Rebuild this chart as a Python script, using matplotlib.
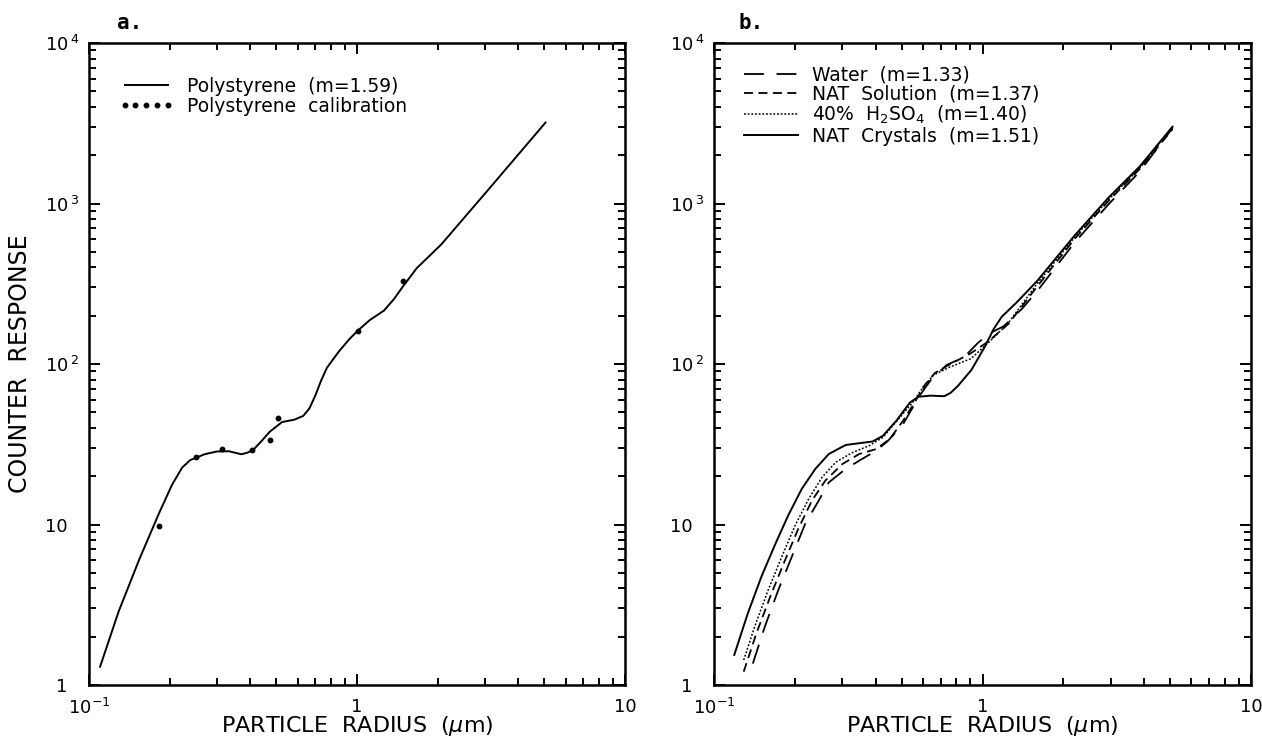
import numpy as np
import matplotlib
matplotlib.use("Agg")
import matplotlib.pyplot as plt
from matplotlib.ticker import FixedLocator, NullFormatter

# ---------------------------------------------------------------------------
# Datos (radio en um, respuesta del contador)
# ---------------------------------------------------------------------------
# a. poliestireno
r_poly = [0.110, 0.129, 0.154, 0.1835, 0.190, 0.2038, 0.2225, 0.2386, 0.27,
          0.300, 0.333, 0.370, 0.390, 0.411, 0.441, 0.473, 0.5255, 0.584,
          0.630, 0.665, 0.70, 0.735, 0.773, 0.859, 0.937, 1.005, 1.117, 1.26,
          1.377, 1.479, 1.672, 1.857, 2.063, 3.14, 5.05]
y_poly = [1.30, 2.87, 6.06, 12.0, 13.6, 17.6, 22.6, 25.2, 27.4,
          28.5, 28.6, 27.4, 28.0, 29.3, 33.2, 37.9, 43.5, 45.0,
          47.5, 53.0, 64.0, 79.0, 95.0, 120.6, 143, 161, 188, 215,
          255, 302, 396, 469, 556, 1258, 3193]

r_cal = [0.182, 0.2515, 0.3127, 0.404, 0.473, 0.507, 1.005, 1.479]
y_cal = [9.75, 26.5, 29.7, 29.3, 33.6, 46.2, 161, 330]

# b. agua (m=1.33)
r_water = [0.1395, 0.1545, 0.1734, 0.1947, 0.2186, 0.2455, 0.2677, 0.3094,
           0.3475, 0.4016, 0.4446, 0.506, 0.5365, 0.585, 0.64, 0.735, 0.81,
           0.87, 0.96, 1.06, 1.2, 1.4, 1.6, 2.2, 2.95, 3.85, 5.1]
y_water = [1.36, 2.30, 3.89, 6.27, 10.1, 14.1, 18.3, 22.2,
           25.0, 28.8, 33.2, 42.2, 50.0, 64, 79, 98.6, 106,
           114, 135, 155, 172, 220, 285, 570, 990, 1580, 2950]

# b. solución NAT (m=1.37)
r_sol = [0.129, 0.1437, 0.1636, 0.1837, 0.206, 0.2317, 0.26, 0.3006, 0.3475,
         0.4016, 0.4508, 0.506, 0.56, 0.61, 0.665, 0.76, 0.90, 1.05, 1.25,
         1.6, 2.2, 2.95, 3.85, 5.1]
y_sol = [1.21, 2.09, 3.71, 5.97, 9.4, 14.1, 18.8, 23.8, 27.5,
         29.5, 34.0, 44.3, 58, 74, 88, 100, 116, 138, 178,
         305, 600, 1040, 1640, 2900]

# b. H2SO4 40% (m=1.40)
r_h2so4 = [0.129, 0.1416, 0.159, 0.1786, 0.2005, 0.225, 0.2526, 0.2837, 0.328,
           0.379, 0.4256, 0.492, 0.552, 0.602, 0.657, 0.761, 0.906, 1.048,
           1.248, 1.6, 2.2, 2.95, 3.85, 5.1]
y_h2so4 = [1.43, 2.30, 3.89, 6.27, 9.86, 14.4, 19.7, 24.4, 28.1,
           31.0, 34.9, 46.4, 58.2, 72.2, 85.3, 96.2, 108, 135,
           180, 318, 615, 1060, 1660, 2980]

# b. cristales NAT (m=1.51)
r_nat = [0.119, 0.1336, 0.150, 0.1683, 0.189, 0.2124, 0.2384, 0.2677, 0.3094,
         0.3577, 0.390, 0.4256, 0.4777, 0.5365, 0.577, 0.64, 0.72, 0.76, 0.81,
         0.91, 1.02, 1.10, 1.18, 1.35, 1.6, 2.2, 2.95, 3.85, 5.1]
y_nat = [1.54, 2.79, 4.71, 7.41, 11.4, 16.7, 22.2, 27.5, 31.3,
         32.3, 32.9, 35.7, 44.3, 57.5, 62.5, 63.5, 63, 66, 73,
         92, 128, 165, 197, 245, 330, 630, 1090, 1700, 3010]

x_ticks = [0.1, 1, 10]
x_labels = ["10$^{-1}$", "1", "10"]
y_ticks = [1, 10, 100, 1000, 10000]
# los espacios finales alinean la base "10" de las etiquetas con exponente
y_labels = ["1  ", "10  ", "10$^{\\,2}$", "10$^{\\,3}$", "10$^{\\,4}$"]

plt.rcParams["font.family"] = ["DejaVu Sans"]

W, H = 1262, 743
fig = plt.figure(figsize=(W / 100, H / 100), dpi=100)
ax_a = fig.add_axes([89 / W, 58 / H, 536 / W, 642 / H])
ax_b = fig.add_axes([714 / W, 58 / H, 537 / W, 642 / H])


def estilo(ax):
    ax.set_xscale("log")
    ax.set_yscale("log")
    ax.set_xlim(0.1, 10)
    ax.set_ylim(1, 1e4)
    minors_x = [m * 10.0 ** e for e in (-1, 0) for m in range(2, 10)]
    minors_y = [m * 10.0 ** e for e in range(0, 4) for m in range(2, 10)]
    ax.xaxis.set_major_locator(FixedLocator(x_ticks))
    ax.xaxis.set_minor_locator(FixedLocator(minors_x))
    ax.yaxis.set_major_locator(FixedLocator(y_ticks))
    ax.yaxis.set_minor_locator(FixedLocator(minors_y))
    ax.set_xticklabels(x_labels)
    ax.set_yticklabels(y_labels)
    ax.xaxis.set_minor_formatter(NullFormatter())
    ax.yaxis.set_minor_formatter(NullFormatter())
    ax.tick_params(which="both", direction="in", top=True, right=True,
                   width=1.4, labelsize=13)
    ax.tick_params(axis="x", which="major", pad=9)
    ax.tick_params(axis="y", which="major", pad=7)
    ax.tick_params(which="major", length=8)
    ax.tick_params(which="minor", length=5)
    for sp in ax.spines.values():
        sp.set_linewidth(1.8)
    ax.set_xlabel("PARTICLE  RADIUS  ($\\mu$m)", fontsize=16)
    ax.xaxis.set_label_coords(0.5, -0.045)


# ---------------------------------------------------------------------------
# Panel a
# ---------------------------------------------------------------------------
estilo(ax_a)
ax_a.plot(r_poly, y_poly, color="black", lw=1.4, label="Polystyrene  (m=1.59)")
ax_a.plot(r_cal, y_cal, ls="none", marker="o", ms=3.2, color="black",
          label="Polystyrene  calibration")
ax_a.set_ylabel("COUNTER  RESPONSE", fontsize=17)
ax_a.yaxis.set_label_coords(-0.106, 0.5)
ax_a.legend(loc="upper left", bbox_to_anchor=(0.035, 0.965), frameon=False,
            fontsize=13.5, numpoints=5, handlelength=2.9, handletextpad=0.7,
            labelspacing=0.05, borderaxespad=0.2)
ax_a.text(0.052, 1.015, "a.", transform=ax_a.transAxes, fontsize=15,
          fontweight="bold", family="DejaVu Sans Mono", va="bottom")

# ---------------------------------------------------------------------------
# Panel b
# ---------------------------------------------------------------------------
estilo(ax_b)
ax_b.plot(r_water, y_water, color="black", lw=1.3, dashes=(11, 7),
          label="Water  (m=1.33)")
ax_b.plot(r_sol, y_sol, color="black", lw=1.3, dashes=(5, 3),
          label="NAT  Solution  (m=1.37)")
ax_b.plot(r_h2so4, y_h2so4, color="black", lw=1.1, dashes=(1.2, 1.2),
          label="40%  H$_2$SO$_4$  (m=1.40)")
ax_b.plot(r_nat, y_nat, color="black", lw=1.4, label="NAT  Crystals  (m=1.51)")
ax_b.legend(loc="upper left", bbox_to_anchor=(0.035, 0.983), frameon=False,
            fontsize=13.5, handlelength=2.9, handletextpad=0.7,
            labelspacing=0.02, borderaxespad=0.2)
ax_b.text(0.045, 1.015, "b.", transform=ax_b.transAxes, fontsize=15,
          fontweight="bold", family="DejaVu Sans Mono", va="bottom")

fig.savefig("out.png", dpi=100)
